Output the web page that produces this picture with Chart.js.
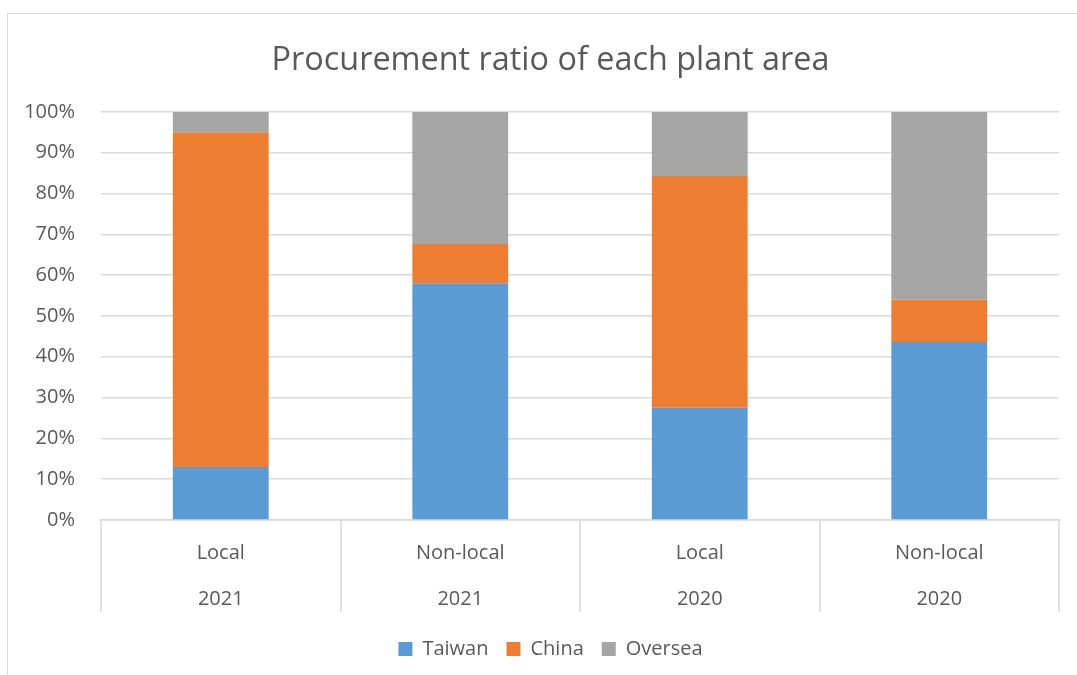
<!DOCTYPE html>
<html>
<head>
<meta charset="utf-8">
<script src="https://cdn.jsdelivr.net/npm/chart.js@4"></script>
<style>
    html, body { margin: 0; padding: 0; background: #fff; overflow: hidden; }
    #frame { position: absolute; left: 7px; top: 13px; width: 1200px; height: 800px; border: 1px solid #d9d9d9; }
    #wrap { position: absolute; left: 0; top: 0; width: 1077px; height: 675px; }
</style>
</head>
<body>
<div id="frame"></div>
<div id="wrap"><canvas id="procChart" width="1077" height="675"></canvas></div>
<script>
const areas = ['Local', 'Non-local', 'Local', 'Non-local'];
const years = ['2021', '2021', '2020', '2020'];

// share of purchases per source, in percent
const taiwan = [13, 58, 27.5, 43.6];
const china = [82, 9.6, 56.8, 10.4];
const oversea = [5, 32.4, 15.7, 46];

const FONT = "'Open Sans', 'Noto Sans', sans-serif";
const TXT = '#595959';
const GRID = '#d9d9d9';
const SEP_LEN = 92;
const PAD_LEFT = 42;

Chart.defaults.font.family = FONT;
Chart.defaults.color = TXT;

const labels = areas.map((a, i) => [a, years[i]]);

const ds = (label, data, color) => ({
    label, data, backgroundColor: color, borderWidth: 0,
    barPercentage: 0.4, categoryPercentage: 1
});

// vertical dividers between the two-level category labels
const groupLines = {
    id: 'groupLines',
    afterLayout(chart) {
        // let the % labels run into the left padding instead of being clipped
        chart.scales.y.left = 0;
    },
    afterDraw(chart) {
        const x = chart.scales.x;
        const n = chart.data.labels.length;
        const half = (x.getPixelForValue(1) - x.getPixelForValue(0)) / 2;
        const ctx = chart.ctx;
        ctx.save();
        ctx.strokeStyle = GRID;
        ctx.lineWidth = 1.5;
        ctx.beginPath();
        for (let i = 0; i <= n; i++) {
            const px = Math.round(x.getPixelForValue(i) - half);
            ctx.moveTo(px, x.top);
            ctx.lineTo(px, x.top + SEP_LEN);
        }
        ctx.stroke();
        ctx.restore();
    }
};

new Chart(document.getElementById('procChart').getContext('2d'), {
    type: 'bar',
    data: {
        labels,
        datasets: [
            ds('Taiwan', taiwan, '#5b9bd5'),
            ds('China', china, '#ed7d31'),
            ds('Oversea', oversea, '#a5a5a5')
        ]
    },
    options: {
        animation: false, responsive: false,
        layout: { padding: { left: PAD_LEFT, right: 18, top: 13, bottom: 6 } },
        plugins: {
            title: {
                display: true, text: 'Procurement ratio of each plant area',
                color: TXT, font: { family: FONT, size: 32.4, weight: 'normal' },
                padding: { top: 28, bottom: 32 }
            },
            legend: {
                position: 'bottom',
                labels: { color: TXT, font: { family: FONT, size: 20 }, boxWidth: 14, boxHeight: 14, padding: 18 }
            },
            tooltip: { enabled: false }
        },
        scales: {
            x: {
                stacked: true,
                afterFit: (s) => { s.height -= 3; },
                border: { color: GRID, width: 1.5 },
                grid: { display: false },
                ticks: { color: TXT, font: { family: FONT, size: 20, lineHeight: 2.3 }, padding: 2, maxRotation: 0 }
            },
            y: {
                stacked: true, min: 0, max: 100,
                afterFit: (s) => { s.width = 101 - PAD_LEFT; },
                border: { display: false },
                grid: { color: GRID, lineWidth: 1.5, drawTicks: false },
                ticks: { stepSize: 10, padding: 26, color: TXT, font: { family: FONT, size: 20 }, callback: v => v + '%' }
            }
        }
    },
    plugins: [groupLines]
});
</script>
</body>
</html>
